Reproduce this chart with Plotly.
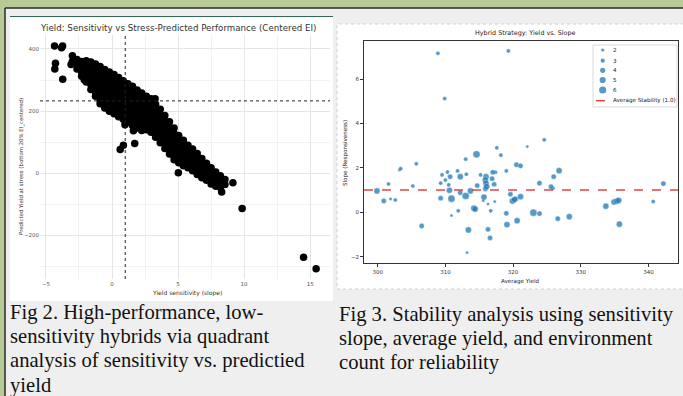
import plotly.graph_objects as go

W, H = 683, 396

# ---------------- Fig 2 data: sensitivity (slope) vs predicted yield at stress ----------------
# dense band of hybrids: x value -> y values
BAND_X = [-3.0, -2.65, -2.3, -1.95, -1.6, -1.25, -0.9, -0.55, -0.2, 0.15, 0.5, 0.85,
          1.2, 1.55, 1.9, 2.25, 2.6, 2.95, 3.3, 3.65, 4.0, 4.35, 4.7, 5.05, 5.4, 5.75,
          6.1, 6.45, 6.8, 7.15, 7.5, 7.85, 8.2, 8.55]
BAND_Y = [
    [378, 360],
    [366, 350, 336],
    [360, 342, 324, 312],
    [362, 346, 328, 310, 294],
    [358, 340, 322, 304, 286, 270],
    [352, 334, 316, 298, 280, 262, 248],
    [344, 326, 308, 290, 272, 254, 236, 224],
    [334, 316, 298, 280, 262, 244, 226, 210],
    [326, 308, 290, 272, 254, 236, 218, 200],
    [318, 300, 282, 264, 246, 228, 210, 192],
    [308, 290, 272, 254, 236, 218, 200, 182],
    [298, 280, 262, 244, 226, 208, 190, 174],
    [288, 270, 252, 234, 216, 198, 180, 164],
    [280, 262, 244, 226, 208, 190, 172, 154],
    [268, 250, 232, 214, 196, 178, 160, 146],
    [258, 240, 222, 204, 186, 168, 152, 138],
    [248, 230, 212, 194, 176, 158, 140],
    [240, 222, 204, 186, 168, 150, 132],
    [222, 204, 186, 168, 150, 132, 116],
    [206, 188, 170, 152, 134, 116, 98],
    [186, 168, 150, 132, 114, 96, 80],
    [166, 148, 130, 112, 94, 76, 62],
    [146, 128, 110, 92, 74, 56, 44],
    [122, 104, 86, 68, 50, 34],
    [106, 88, 70, 52, 36, 24],
    [90, 72, 54, 36, 18],
    [78, 60, 42, 24, 8],
    [64, 46, 28, 10, -4],
    [48, 30, 12, -6, -14],
    [32, 14, -4, -22],
    [18, 0, -18, -34],
    [4, -14, -32, -42],
    [-8, -26, -46],
    [-20, -36],
]
# isolated hybrids
OUT_X = [-4.35, -3.82, -3.74, -4.28, -4.33, -3.73, -3.1, -2.1, 0.98, 1.62, 0.86, 0.62,
         1.72, 3.26, 5.02, 8.3, 9.15, 9.85, 14.5, 15.45]
OUT_Y = [410, 404, 410, 354, 336, 303, 350, 301, 156, 137, 90, 77,
         96, 240, 2, -60, -30, -113, -270, -307]
SLOPE_REF = 1.0        # vertical dotted reference (slope = 1)
PRED_REF = 233         # horizontal dotted reference

FIG2_X_TICKS = [-5, 0, 5, 10, 15]
FIG2_Y_TICKS = [-200, 0, 200, 400]

# ---------------- Fig 3 data: average yield vs slope, by environment count ----------------
AVG_YIELD = [308.9, 319.3, 309.9, 324.6, 322.1, 317.6, 318.2, 314.6, 313.0, 320.5, 321.1,
             305.7, 303.4, 303.2, 319.0, 326.8, 326.0, 310.3, 311.8, 313.1, 315.2, 317.0,
             317.4, 309.5, 310.7, 312.2, 316.0, 315.9, 316.0, 316.1, 315.9, 316.9, 317.2,
             314.7, 310.0, 309.3, 310.5, 301.6, 305.2, 323.9, 325.6, 325.9, 342.2, 299.9,
             310.6, 313.7, 312.2, 313.0, 310.9, 309.3, 300.9, 301.9, 302.6, 315.7, 315.6,
             317.3, 316.3, 319.6, 319.9, 320.2, 320.4, 321.1, 314.2, 314.4, 311.9, 316.7,
             319.0, 323.0, 323.9, 310.9, 306.5, 313.4, 316.3, 319.1, 320.6, 326.6, 328.3,
             316.6, 313.2, 333.7, 334.9, 335.3, 335.6, 335.7, 340.7]
SLOPE = [7.16, 7.27, 5.12, 3.26, 2.96, 2.90, 2.57, 2.61, 2.39, 2.14, 2.09,
         2.18, 1.96, 1.90, 1.86, 1.87, 1.60, 1.81, 1.86, 1.71, 1.68, 1.80,
         1.80, 1.68, 1.60, 1.60, 1.60, 1.45, 1.30, 1.15, 1.05, 1.51, 1.26,
         1.20, 1.45, 1.31, 1.23, 1.27, 1.18, 1.31, 1.15, 1.08, 1.29, 0.96,
         0.99, 0.96, 0.88, 0.73, 0.61, 0.63, 0.51, 0.60, 0.55, 0.68, 0.52,
         0.48, 0.37, 0.81, 0.50, 0.57, 0.60, 0.70, 0.18, 0.14, 0.06, 0.06,
         -0.05, -0.02, -0.06, -0.15, -0.62, -0.80, -0.77, -0.56, -0.38, -0.29, -0.20,
         -1.16, -1.82, 0.27, 0.46, 0.50, 0.53, -0.54, 0.48]
ENV_COUNT = [3, 3, 3, 3, 2, 3, 3, 6, 3, 4, 4,
             3, 3, 2, 3, 5, 4, 3, 3, 3, 3, 4,
             3, 3, 4, 5, 5, 5, 5, 5, 4, 4, 4,
             4, 3, 3, 3, 3, 3, 4, 4, 3, 4, 5,
             5, 5, 4, 6, 6, 4, 4, 2, 3, 5, 2,
             2, 2, 4, 5, 5, 4, 5, 5, 5, 3, 3,
             4, 6, 4, 2, 4, 5, 4, 5, 5, 4, 5,
             4, 2, 5, 5, 5, 5, 5, 3]
ENV_LEVELS = [2, 3, 4, 5, 6]
AVG_STABILITY = 1.0
FIG3_X_TICKS = [300, 310, 320, 330, 340]
FIG3_Y_TICKS = [-2, 0, 2, 4, 6]

# ---------------- styling ----------------
GREEN = "#b8ca96"
PANEL = "#efefef"
BLUE = "#1f77b4"
RED = "#d62728"
SIZE_FOR_COUNT = {2: 3.2, 3: 4.2, 4: 5.2, 5: 6.2, 6: 7.2}
SANS = "DejaVu Sans"
SERIF = "Liberation Serif"


def fx(px):
    return px / W


def fy(py):
    return 1 - py / H


fig = go.Figure()

sens_x, pred_y = [], []
for x, ys in zip(BAND_X, BAND_Y):
    for y in ys:
        sens_x.append(x)
        pred_y.append(y)
sens_x += OUT_X
pred_y += OUT_Y

fig.add_trace(go.Scatter(
    x=sens_x, y=pred_y, mode="markers", xaxis="x", yaxis="y",
    marker=dict(color="black", size=7.5, line=dict(width=0)),
    showlegend=False, hoverinfo="skip"))

for n in ENV_LEVELS:
    xs = [x for x, c in zip(AVG_YIELD, ENV_COUNT) if c == n]
    ys = [y for y, c in zip(SLOPE, ENV_COUNT) if c == n]
    fig.add_trace(go.Scatter(
        x=xs, y=ys, mode="markers", xaxis="x2", yaxis="y2", name=str(n),
        marker=dict(color=BLUE, opacity=0.75, size=SIZE_FOR_COUNT[n],
                    line=dict(color="white", width=0.4)),
        showlegend=False))

X2_RANGE = [297.98, 344.36]

fig.update_layout(
    width=W, height=H, margin=dict(l=0, r=0, t=0, b=0),
    paper_bgcolor=GREEN, plot_bgcolor="white", showlegend=False,
    xaxis=dict(domain=[fx(40), fx(330)], range=[-5.45, 16.5], anchor="y",
               tickvals=FIG2_X_TICKS, showgrid=True, gridcolor="#e6e6e6", gridwidth=0.8,
               zeroline=False, showline=False, ticks="",
               tickfont=dict(family=SANS, size=5.5, color="#555"),
               minor=dict(dtick=2.5, tick0=0, showgrid=True, gridcolor="#f2f2f2", gridwidth=0.5)),
    yaxis=dict(domain=[fy(279), fy(35)], range=[-340, 445], anchor="x",
               tickvals=FIG2_Y_TICKS, showgrid=True, gridcolor="#e6e6e6", gridwidth=0.8,
               zeroline=False, showline=False, ticks="",
               tickfont=dict(family=SANS, size=5.5, color="#555"),
               minor=dict(dtick=100, tick0=0, showgrid=True, gridcolor="#f2f2f2", gridwidth=0.5)),
    xaxis2=dict(domain=[fx(364), fx(678)], range=X2_RANGE, anchor="y2",
                tickvals=FIG3_X_TICKS, showgrid=False, zeroline=False,
                showline=True, mirror=True, linecolor="#333", linewidth=0.8,
                ticks="outside", ticklen=3, tickwidth=0.8, tickcolor="#333",
                tickfont=dict(family=SANS, size=5.5, color="#333")),
    yaxis2=dict(domain=[fy(263), fy(40.7)], range=[-2.29, 7.73], anchor="x2",
                tickvals=FIG3_Y_TICKS, showgrid=False, zeroline=False,
                showline=True, mirror=True, linecolor="#333", linewidth=0.8,
                ticks="outside", ticklen=3, tickwidth=0.8, tickcolor="#333",
                tickfont=dict(family=SANS, size=5.5, color="#333")),
)

shapes = [
    # page panel and border
    dict(type="rect", xref="paper", yref="paper", x0=fx(5), x1=1, y0=0, y1=fy(8),
         fillcolor=PANEL, line=dict(width=0), layer="below"),
    dict(type="line", xref="paper", yref="paper", x0=fx(5), x1=1, y0=fy(8), y1=fy(8),
         line=dict(color="#2b2b2b", width=1.5), layer="below"),
    dict(type="line", xref="paper", yref="paper", x0=fx(5), x1=fx(5), y0=0, y1=fy(8),
         line=dict(color="#2b2b2b", width=1.5), layer="below"),
    # left figure canvas
    dict(type="rect", xref="paper", yref="paper", x0=fx(10), x1=fx(333), y0=fy(301), y1=fy(16.5),
         fillcolor="white", line=dict(width=0), layer="below"),
    dict(type="line", xref="paper", yref="paper", x0=fx(10), x1=fx(333), y0=fy(16.5), y1=fy(16.5),
         line=dict(color="#2e6655", width=1), layer="below"),
    # right figure canvas
    dict(type="rect", xref="paper", yref="paper", x0=fx(337), x1=fx(684), y0=fy(289), y1=fy(24),
         fillcolor="white", line=dict(color="#d0d0d0", width=1, dash="dot"), layer="below"),
    # reference lines, fig 2
    dict(type="line", xref="x", yref="y domain", x0=SLOPE_REF, x1=SLOPE_REF, y0=0, y1=1,
         line=dict(color="#222", width=1, dash="dot")),
    dict(type="line", xref="x domain", yref="y", x0=0, x1=1, y0=PRED_REF, y1=PRED_REF,
         line=dict(color="#222", width=1, dash="dot")),
    # average stability line, fig 3
    dict(type="line", xref="x2 domain", yref="y2", x0=0, x1=1, y0=AVG_STABILITY, y1=AVG_STABILITY,
         line=dict(color=RED, width=1.6, dash="dash"), opacity=0.85),
    # legend box
    dict(type="rect", xref="paper", yref="paper", x0=fx(593), x1=fx(677), y0=fy(107), y1=fy(45),
         fillcolor="white", line=dict(color="#cfcfcf", width=0.8)),
]

legend_rows = [50, 60.7, 70.3, 80, 90]
for n, ry in zip(ENV_LEVELS, legend_rows):
    r = SIZE_FOR_COUNT[n] / 2
    shapes.append(dict(type="circle", xref="paper", yref="paper",
                       x0=fx(602.7 - r), x1=fx(602.7 + r), y0=fy(ry + r), y1=fy(ry - r),
                       fillcolor=BLUE, opacity=0.75, line=dict(width=0)))
shapes.append(dict(type="line", xref="paper", yref="paper", x0=fx(596), x1=fx(609.5),
                   y0=fy(100.7), y1=fy(100.7), line=dict(color=RED, width=1.4, dash="dash"),
                   opacity=0.85))
fig.update_layout(shapes=shapes)

ann = []


def text(s, px, py, size, color="#333", family=SANS, xanchor="center", angle=0):
    ann.append(dict(text=s, x=fx(px), y=fy(py), xref="paper", yref="paper",
                    showarrow=False, xanchor=xanchor, yanchor="middle", textangle=angle,
                    borderpad=0, font=dict(family=family, size=size, color=color)))


# fig 2 texts
text("Yield: Sensitivity vs Stress-Predicted Performance (Centered EI)", 178, 28, 8.7, "#333")
text("Yield sensitivity (slope)", 187, 293, 6, "#333")
text("Predicted Yield at stress (bottom 20% EI_centered)", 21, 167, 5.4, "#333", angle=-90)
# fig 3 texts
text("Hybrid Strategy: Yield vs. Slope", 525, 33, 6.4, "#222")
text("Average Yield", 520, 281, 5.6, "#222")
text("Slope (Responsiveness)", 345, 153, 5.6, "#222", angle=-90)
for n, ry in zip(ENV_LEVELS, legend_rows):
    text(str(n), 611.7, ry, 5.6, "#222", xanchor="left")
text("Average Stability (1.0)", 611.7, 100.7, 5.6, "#222", xanchor="left")

# captions
CAP2 = ["Fig 2. High-performance, low-", "sensitivity hybrids via quadrant",
        "analysis of sensitivity vs. predictied", "yield"]
CAP3 = ["Fig 3. Stability analysis using sensitivity", "slope, average yield, and environment",
        "count for reliability"]
for i, line in enumerate(CAP2):
    text(line, 9, 312.5 + 24.2 * i, 20.6, "#111", family=SERIF, xanchor="left")
for i, line in enumerate(CAP3):
    text(line, 338, 314 + 24.2 * i, 20.6, "#111", family=SERIF, xanchor="left")

fig.update_layout(annotations=ann)

fig.write_html("out.html", config={"displayModeBar": False},
               post_script="document.body.style.margin='0';document.body.style.overflow='hidden';")
